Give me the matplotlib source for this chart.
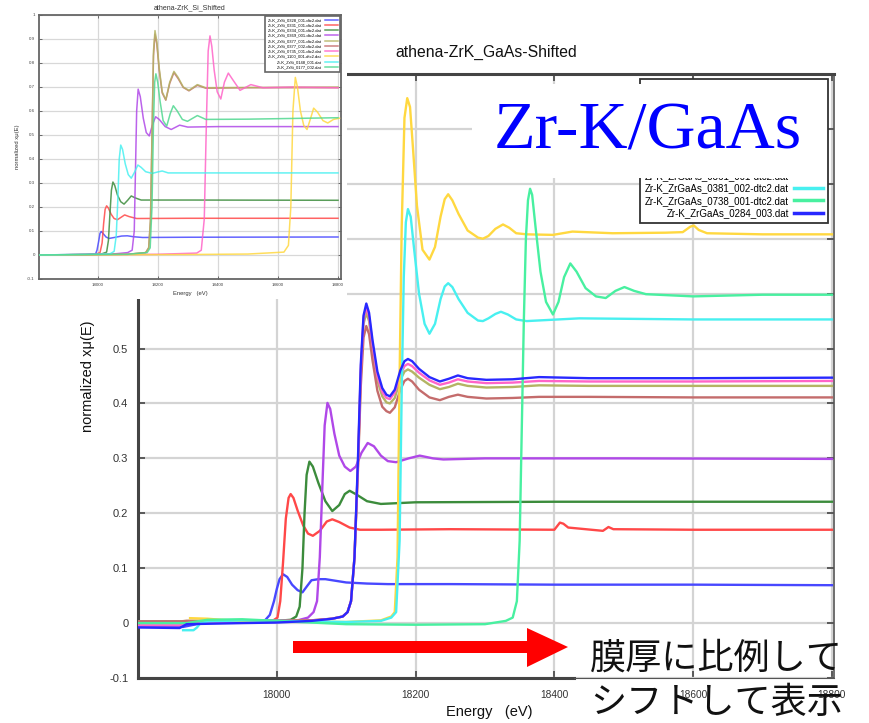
import matplotlib
matplotlib.use('Agg')
import matplotlib.pyplot as plt
from matplotlib.patches import Rectangle, Polygon

plt.rcParams['font.family'] = ['Liberation Sans', 'DejaVu Sans']

# ---------------- data: main chart (Zr-K / GaAs, shifted) ----------------
x_ticks = [18000, 18200, 18400, 18600, 18800]
x_tick_labels = ['18000', '18200', '18400', '18600', '18800']
y_ticks = [-0.1, 0.0, 0.1, 0.2, 0.3, 0.4, 0.5, 0.6, 0.7, 0.8, 0.9, 1.0]
y_tick_labels = ['-0.1', '0', '0.1', '0.2', '0.3', '0.4', '0.5', '0.6', '0.7', '0.8', '0.9', '1']

gaas_labels = ['Zr-K_ZrGaAs_0327_001-dtc2.dat', 'Zr-K_ZrGaAs_0331_001-dtc2.dat',
               'Zr-K_ZrGaAs_0334_001-dtc2.dat', 'Zr-K_ZrGaAs_0369_001-dtc2.dat',
               'Zr-K_ZrGaAs_0377_001-dtc2.dat', 'Zr-K_ZrGaAs_0377_002-dtc2.dat',
               'Zr-K_ZrGaAs_0735_001-dtc2.dat', 'Zr-K_ZrGaAs_0361_001-dtc2.dat',
               'Zr-K_ZrGaAs_0381_002-dtc2.dat', 'Zr-K_ZrGaAs_0738_001-dtc2.dat',
               'Zr-K_ZrGaAs_0284_003.dat']

blue_low_E = [17800, 17850, 17865, 17900, 17950, 17983, 17990, 17996, 18000, 18004, 18009, 18015,
              18022, 18030, 18037, 18044, 18050, 18060, 18070, 18085, 18100, 18130, 18160, 18250,
              18400, 18600, 18800]
blue_low_v = [-0.006, -0.007, -0.007, 0.002, 0.003, 0.005, 0.015, 0.04, 0.062, 0.08, 0.089, 0.084,
              0.070, 0.060, 0.056, 0.068, 0.078, 0.080, 0.080, 0.077, 0.074, 0.072, 0.071, 0.071,
              0.070, 0.070, 0.069]

red_E = [17800, 17900, 17980, 17995, 18001, 18005, 18009, 18013, 18017, 18020, 18024, 18030, 18038,
         18045, 18052, 18062, 18072, 18080, 18090, 18105, 18120, 18150, 18250, 18400, 18408, 18413,
         18420, 18470, 18478, 18485, 18600, 18800]
red_v = [0.003, 0.002, 0.003, 0.005, 0.01, 0.04, 0.11, 0.19, 0.228, 0.235, 0.228, 0.205, 0.178,
         0.163, 0.159, 0.168, 0.185, 0.189, 0.184, 0.174, 0.170, 0.170, 0.171, 0.170, 0.183, 0.181,
         0.174, 0.168, 0.175, 0.171, 0.170, 0.170]

green_E = [17800, 17950, 18000, 18020, 18028, 18033, 18037, 18040, 18043, 18047, 18052, 18060, 18070,
           18080, 18090, 18098, 18105, 18115, 18130, 18150, 18200, 18400, 18800]
green_v = [0.002, 0.004, 0.004, 0.006, 0.012, 0.03, 0.10, 0.20, 0.27, 0.294, 0.285, 0.255, 0.222,
           0.204, 0.215, 0.235, 0.241, 0.234, 0.222, 0.217, 0.220, 0.221, 0.221]

purple_E = [17800, 17950, 18030, 18045, 18053, 18058, 18062, 18066, 18069, 18073, 18077, 18083, 18090,
            18098, 18106, 18114, 18122, 18131, 18140, 18150, 18160, 18172, 18190, 18206, 18225, 18240,
            18300, 18500, 18800]
purple_v = [0.003, 0.004, 0.005, 0.01, 0.02, 0.04, 0.12, 0.26, 0.36, 0.401, 0.39, 0.345, 0.305,
            0.285, 0.277, 0.285, 0.31, 0.328, 0.322, 0.305, 0.295, 0.293, 0.300, 0.305, 0.300, 0.298,
            0.300, 0.300, 0.299]

cluster_E = [17800, 17860, 17870, 17950, 18000, 18050, 18080, 18095, 18102, 18107, 18112, 18117,
             18121, 18125, 18129, 18133, 18138, 18145, 18152, 18158, 18163, 18170, 18178, 18184,
             18189, 18195, 18205, 18220, 18235, 18248, 18261, 18275, 18302, 18340, 18378, 18450,
             18600, 18800]
blue_v = [-0.008, -0.009, -0.002, 0.0, 0.001, 0.004, 0.008, 0.012, 0.02, 0.04, 0.12, 0.30,
          0.47, 0.56, 0.582, 0.565, 0.515, 0.458, 0.428, 0.416, 0.413, 0.425, 0.46, 0.477,
          0.481, 0.477, 0.463, 0.448, 0.440, 0.445, 0.451, 0.446, 0.443, 0.444, 0.448, 0.446,
          0.446, 0.447]
pink_v = [-0.004, -0.004, 0.0, 0.002, 0.002, 0.004, 0.008, 0.012, 0.02, 0.04, 0.12, 0.29,
          0.46, 0.555, 0.575, 0.558, 0.507, 0.450, 0.421, 0.410, 0.408, 0.42, 0.452, 0.468,
          0.472, 0.468, 0.456, 0.442, 0.434, 0.438, 0.444, 0.440, 0.437, 0.438, 0.441, 0.440,
          0.440, 0.441]
olive_v = [0.003, 0.003, 0.004, 0.004, 0.004, 0.005, 0.008, 0.012, 0.02, 0.04, 0.12, 0.29,
           0.45, 0.545, 0.565, 0.550, 0.498, 0.442, 0.413, 0.402, 0.400, 0.41, 0.443, 0.458,
           0.462, 0.458, 0.447, 0.434, 0.426, 0.430, 0.436, 0.432, 0.429, 0.430, 0.433, 0.432,
           0.432, 0.432]
brown_v = [0.003, 0.003, 0.004, 0.004, 0.004, 0.005, 0.008, 0.012, 0.02, 0.04, 0.12, 0.28,
           0.43, 0.52, 0.541, 0.526, 0.478, 0.423, 0.394, 0.386, 0.383, 0.393, 0.425, 0.441,
           0.445, 0.440, 0.425, 0.411, 0.406, 0.412, 0.416, 0.412, 0.409, 0.410, 0.412, 0.412,
           0.411, 0.411]

yellow_E = [17875, 17900, 17920, 17950, 18000, 18100, 18150, 18165, 18170, 18174, 18177, 18180,
            18184, 18188, 18192, 18196, 18202, 18210, 18220, 18228, 18236, 18242, 18247, 18253,
            18262, 18275, 18290, 18297, 18305, 18315, 18326, 18335, 18345, 18360, 18398, 18426,
            18484, 18560, 18585, 18596, 18601, 18608, 18620, 18700, 18800]
yellow_v = [0.009, 0.008, 0.006, 0.004, 0.003, 0.002, 0.005, 0.012, 0.02, 0.12, 0.45, 0.72,
            0.92, 0.956, 0.94, 0.87, 0.76, 0.68, 0.662, 0.685, 0.74, 0.772, 0.781, 0.77,
            0.745, 0.715, 0.702, 0.700, 0.705, 0.718, 0.726, 0.72, 0.71, 0.708, 0.707, 0.713,
            0.710, 0.711, 0.712, 0.722, 0.724, 0.716, 0.710, 0.708, 0.708]

cyan_E = [17865, 17880, 17885, 17890, 17900, 17950, 18000, 18100, 18150, 18165, 18172, 18177,
          18180, 18183, 18186, 18189, 18193, 18198, 18205, 18213, 18220, 18228, 18236, 18242,
          18247, 18253, 18262, 18275, 18290, 18297, 18305, 18315, 18323, 18333, 18345, 18360,
          18436, 18600, 18800]
cyan_v = [-0.013, -0.013, -0.008, 0.0, 0.003, 0.005, 0.004, 0.002, 0.004, 0.01, 0.02, 0.15,
          0.42, 0.63, 0.73, 0.754, 0.74, 0.68, 0.60, 0.545, 0.527, 0.545, 0.59, 0.613,
          0.619, 0.612, 0.59, 0.565, 0.551, 0.550, 0.555, 0.563, 0.567, 0.562, 0.553, 0.550,
          0.555, 0.553, 0.553]

lgreen_E = [17800, 17870, 17900, 17950, 18000, 18100, 18200, 18300, 18330, 18340, 18346, 18350,
            18353, 18356, 18359, 18362, 18365, 18368, 18373, 18380, 18388, 18398, 18406, 18414,
            18423, 18432, 18445, 18460, 18474, 18488, 18501, 18515, 18532, 18600, 18700, 18800]
lgreen_v = [0.0, 0.0, 0.006, 0.007, 0.004, -0.002, -0.003, -0.002, 0.004, 0.01, 0.04, 0.15,
            0.35, 0.55, 0.70, 0.77, 0.791, 0.78, 0.72, 0.64, 0.585, 0.562, 0.585, 0.63,
            0.655, 0.64, 0.61, 0.595, 0.592, 0.605, 0.612, 0.605, 0.599, 0.595, 0.598, 0.598]

# ---------------- data: inset chart (Zr-K / Si, shifted) ----------------
si_labels = ['Zr-K_ZrSi_0328_001-dtc2.dat', 'Zr-K_ZrSi_0331_001-dtc2.dat',
             'Zr-K_ZrSi_0334_001-dtc2.dat', 'Zr-K_ZrSi_0369_001-dtc2.dat',
             'Zr-K_ZrSi_0377_001-dtc2.dat', 'Zr-K_ZrSi_0377_002-dtc2.dat',
             'Zr-K_ZrSi_0735_001-dtc2.dat', 'Zr-K_ZrSi_1100_001-dtc2.dat',
             'Zr-K_ZrSi_0148_001.dat', 'Zr-K_ZrSi_0177_002.dat']

si_blue_E = [17800, 17950, 17993, 17998, 18004, 18008, 18012, 18018, 18028, 18038, 18060, 18080,
             18099, 18120, 18150, 18300, 18800]
si_blue_v = [0.0, 0.0, 0.004, 0.02, 0.06, 0.09, 0.098, 0.09, 0.075, 0.069, 0.074, 0.079,
             0.080, 0.076, 0.073, 0.074, 0.075]
si_red_E = [17800, 17990, 18008, 18015, 18020, 18025, 18030, 18036, 18045, 18055, 18066, 18078,
            18090, 18105, 18130, 18300, 18800]
si_red_v = [0.0, 0.002, 0.01, 0.05, 0.13, 0.19, 0.205, 0.195, 0.17, 0.152, 0.147, 0.157,
            0.167, 0.160, 0.152, 0.153, 0.153]
si_green_E = [17800, 18010, 18030, 18036, 18041, 18046, 18051, 18057, 18066, 18077, 18088, 18100,
              18112, 18125, 18145, 18300, 18800]
si_green_v = [0.0, 0.003, 0.012, 0.06, 0.17, 0.27, 0.304, 0.29, 0.25, 0.222, 0.212, 0.228,
              0.246, 0.238, 0.229, 0.229, 0.228]
si_purple_E = [17800, 18050, 18100, 18115, 18122, 18126, 18130, 18135, 18142, 18152, 18162, 18172,
               18182, 18193, 18205, 18225, 18245, 18273, 18300, 18400, 18800]
si_purple_v = [0.0, 0.004, 0.01, 0.02, 0.10, 0.35, 0.60, 0.691, 0.66, 0.57, 0.51, 0.496,
               0.54, 0.576, 0.565, 0.535, 0.523, 0.541, 0.533, 0.535, 0.535]
si_olive_E = [17800, 18100, 18160, 18170, 18176, 18181, 18186, 18191, 18197, 18205, 18215, 18227,
              18240, 18254, 18268, 18285, 18304, 18332, 18360, 18500, 18800]
si_olive_v = [0.0, 0.003, 0.01, 0.03, 0.15, 0.5, 0.85, 0.935, 0.89, 0.78, 0.68, 0.647,
              0.72, 0.765, 0.74, 0.70, 0.686, 0.710, 0.697, 0.698, 0.700]
si_brown_v = [0.0, 0.003, 0.01, 0.03, 0.14, 0.48, 0.83, 0.92, 0.88, 0.77, 0.675, 0.645,
              0.715, 0.760, 0.735, 0.698, 0.684, 0.707, 0.695, 0.697, 0.697]
si_pink_E = [17800, 18200, 18330, 18345, 18355, 18362, 18368, 18374, 18380, 18388, 18398, 18410,
             18422, 18435, 18450, 18474, 18510, 18550, 18650, 18800]
si_pink_v = [0.0, 0.003, 0.008, 0.02, 0.15, 0.55, 0.85, 0.913, 0.87, 0.77, 0.68, 0.650,
             0.72, 0.758, 0.73, 0.686, 0.710, 0.697, 0.700, 0.697]
si_yellow_E = [17800, 18300, 18500, 18620, 18635, 18643, 18650, 18658, 18665, 18675, 18686, 18697,
               18709, 18719, 18732, 18750, 18766, 18785, 18805]
si_yellow_v = [0.0, 0.002, 0.004, 0.012, 0.04, 0.2, 0.6, 0.74, 0.70, 0.60, 0.54, 0.523,
               0.57, 0.612, 0.595, 0.56, 0.550, 0.565, 0.57]
si_cyan_E = [17800, 18040, 18055, 18062, 18067, 18072, 18077, 18083, 18092, 18102, 18112, 18123,
             18134, 18145, 18160, 18182, 18200, 18215, 18235, 18300, 18800]
si_cyan_v = [0.0, 0.004, 0.015, 0.08, 0.22, 0.40, 0.458, 0.44, 0.38, 0.335, 0.320, 0.345,
             0.375, 0.365, 0.347, 0.340, 0.346, 0.350, 0.342, 0.342, 0.342]
si_lgreen_E = [17800, 18100, 18165, 18175, 18181, 18186, 18190, 18194, 18200, 18208, 18218, 18230,
               18242, 18252, 18265, 18282, 18299, 18332, 18360, 18500, 18800]
si_lgreen_v = [0.0, 0.003, 0.01, 0.03, 0.2, 0.55, 0.72, 0.755, 0.72, 0.64, 0.56, 0.537,
               0.59, 0.622, 0.60, 0.565, 0.557, 0.581, 0.565, 0.566, 0.572]

# ---------------- colours ----------------
C_BLUE_LOW = '#4848ff'
C_RED = '#ff4848'
C_GREEN = '#3c8c3c'
C_PURPLE = '#b048e8'
C_OLIVE = '#b4b464'
C_BROWN = '#c46c6c'
C_PINK = '#ff64c8'
C_YELLOW = '#ffd840'
C_CYAN = '#48f0f0'
C_LGREEN = '#48f0a0'
C_BLUE = '#2828ff'
TXT = '#333333'

W, H = 869, 723
fig = plt.figure(figsize=(W / 100, H / 100), dpi=100)


def frect(x0, y0, x1, y1):
    return [x0 / W, 1 - y1 / H, (x1 - x0) / W, (y1 - y0) / H]


# ---------------- main axes ----------------
ax = fig.add_axes(frect(138, 74, 834, 678))
lw = 1.7
series = [
    (blue_low_E, blue_low_v, C_BLUE_LOW),
    (red_E, red_v, C_RED),
    (green_E, green_v, C_GREEN),
    (purple_E, purple_v, C_PURPLE),
    (cluster_E, olive_v, C_OLIVE),
    (cluster_E, brown_v, C_BROWN),
    (cluster_E, pink_v, C_PINK),
    (yellow_E, yellow_v, C_YELLOW),
    (cyan_E, cyan_v, C_CYAN),
    (lgreen_E, lgreen_v, C_LGREEN),
    (cluster_E, blue_v, C_BLUE),
]
for (e, v, c), lab in zip(series, gaas_labels):
    ax.plot(e, v, color=c, lw=lw, label=lab, zorder=3)

ax.set_xlim(17800, 18803)
ax.set_ylim(-0.1, 1.0)
ax.set_xticks(x_ticks)
ax.set_xticklabels(x_tick_labels)
ax.set_yticks(y_ticks)
ax.set_yticklabels(y_tick_labels)
ax.grid(True, color='#d4d4d4', lw=1.6, zorder=0)
ax.set_axisbelow(True)
ax.tick_params(direction='in', length=5, width=1.2, color='#444444',
               top=True, right=True, labelcolor=TXT)
ax.tick_params(axis='x', labelsize=7.3, pad=9)
ax.tick_params(axis='y', labelsize=8, pad=7)
for side in ['left', 'top']:
    ax.spines[side].set_linewidth(2.2)
    ax.spines[side].set_color('#444444')
ax.spines['right'].set_linewidth(1.2)
ax.spines['right'].set_color('#555555')
ax.spines['bottom'].set_visible(False)
ax.plot([0, 0.627], [0, 0], transform=ax.transAxes, color='#444444', lw=2.2,
        clip_on=False, zorder=4)
ax.plot([0.627, 1], [0, 0], transform=ax.transAxes, color='#555555', lw=0.8,
        clip_on=False, zorder=4)

ax.set_ylabel('normalized xμ(E)', fontsize=10.5, color='#111111')
ax.yaxis.set_label_coords(-0.062, 0.5)
ax.set_xlabel('Energy   (eV)', fontsize=10.5, color='#111111', va='center')
ax.xaxis.set_label_coords(0.505, -0.056)

leg = ax.legend(loc='upper right', bbox_to_anchor=(828 / W, 1 - 79 / H),
                bbox_transform=fig.transFigure, borderaxespad=0, fontsize=7,
                markerfirst=False, handlelength=3.0, handletextpad=0.5,
                labelspacing=0.25, borderpad=0.5, fancybox=False, framealpha=1,
                edgecolor='#333333')
leg.get_frame().set_linewidth(1.3)
for h in leg.legend_handles:
    h.set_linewidth(2.5)

fig.text(486 / W, 1 - 52 / H, 'athena-ZrK_GaAs-Shifted', fontsize=11.3,
         ha='center', va='center', color='#111111')

# ---------------- inset (Zr-K / Si) ----------------
bg = fig.add_axes(frect(0, 0, 347, 299))
bg.set_xticks([])
bg.set_yticks([])
for s in bg.spines.values():
    s.set_visible(False)
bg.set_facecolor('white')

ins = fig.add_axes(frect(39, 15, 341, 279))
si_series = [
    (si_blue_E, si_blue_v, C_BLUE_LOW),
    (si_red_E, si_red_v, C_RED),
    (si_green_E, si_green_v, C_GREEN),
    (si_purple_E, si_purple_v, C_PURPLE),
    (si_olive_E, si_brown_v, C_BROWN),
    (si_olive_E, si_olive_v, C_OLIVE),
    (si_pink_E, si_pink_v, C_PINK),
    (si_yellow_E, si_yellow_v, C_YELLOW),
    (si_cyan_E, si_cyan_v, C_CYAN),
    (si_lgreen_E, si_lgreen_v, '#50d890'),
]
si_order_labels = [si_labels[0], si_labels[1], si_labels[2], si_labels[3], si_labels[5],
                   si_labels[4], si_labels[6], si_labels[7], si_labels[8], si_labels[9]]
handles = {}
for (e, v, c), lab in zip(si_series, si_order_labels):
    ln, = ins.plot(e, v, color=c, lw=1.1, alpha=0.85, label=lab, zorder=3)
    handles[lab] = ln
ins.set_xlim(17805, 18810)
ins.set_ylim(-0.1, 1.0)
ins.set_xticks(x_ticks)
ins.set_xticklabels(x_tick_labels)
ins.set_yticks(y_ticks)
ins.set_yticklabels(y_tick_labels)
ins.grid(True, color='#d8d8d8', lw=0.9, zorder=0)
ins.set_axisbelow(True)
ins.tick_params(direction='in', length=2, width=0.6, color='#555555', top=True,
                right=True, labelsize=3.2, labelcolor='#444444', pad=3)
for s in ins.spines.values():
    s.set_linewidth(1.3)
    s.set_color('#666666')
ins.set_ylabel('normalized xμ(E)', fontsize=4.2, color='#333333')
ins.yaxis.set_label_coords(-0.062, 0.5)
ins.set_xlabel('Energy   (eV)', fontsize=4.2, color='#333333')
ins.xaxis.set_label_coords(0.5, -0.045)
ins.set_title('athena-ZrK_Si_Shifted', fontsize=5, color='#333333', pad=4)
sleg = ins.legend([handles[l] for l in si_labels], si_labels, loc='upper right',
                  borderaxespad=0.15, fontsize=3, markerfirst=False, handlelength=3.2,
                  handletextpad=0.6, labelspacing=0.3, borderpad=0.6, fancybox=False,
                  framealpha=1, edgecolor='#666666')
sleg.get_frame().set_linewidth(1.2)

# ---------------- overlays ----------------
fig.add_artist(Rectangle((472 / W, 1 - 178 / H), (826 - 472) / W, (178 - 84) / H,
                         transform=fig.transFigure, facecolor='white', edgecolor='none',
                         zorder=5))
fig.text(648 / W, 1 - 149 / H, 'Zr-K/GaAs', fontsize=49, family='Liberation Serif',
         color='#0000ff', ha='center', va='baseline', zorder=6)

arrow_px = [(293, 641), (527, 641), (527, 628), (568, 647), (527, 667), (527, 653), (293, 653)]
fig.add_artist(Polygon([(x / W, 1 - y / H) for x, y in arrow_px], closed=True,
                       transform=fig.transFigure, facecolor='#ff0000', edgecolor='none',
                       zorder=5))

jp = ['Noto Sans CJK JP', 'DejaVu Sans']
fig.text(590 / W, 1 - 659 / H, '膜厚に比例して', fontsize=26, family=jp, color='#111111',
         ha='left', va='center', zorder=6)
fig.text(590 / W, 1 - 703 / H, 'シフトして表示', fontsize=26, family=jp, color='#111111',
         ha='left', va='center', zorder=6)

fig.savefig('out.png', dpi=100)
